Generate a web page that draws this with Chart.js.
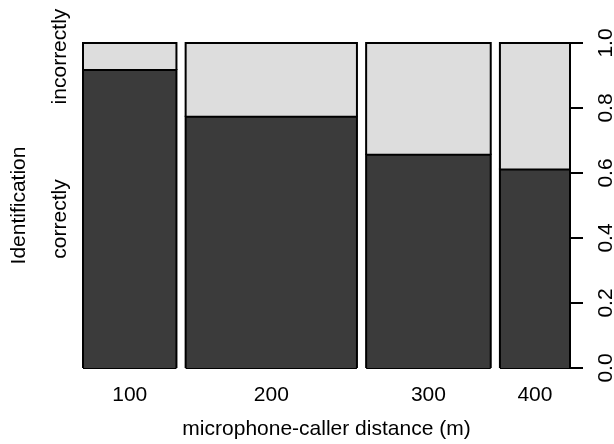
<!DOCTYPE html>
<html>
<head>
<meta charset="utf-8">
<script src="https://cdn.jsdelivr.net/npm/chart.js@4.4.0/dist/chart.umd.min.js"></script>
<style>
  html, body { margin: 0; padding: 0; background: #fff; }
  #wrap { width: 614px; height: 444px; }
</style>
</head>
<body>
<div id="wrap"><canvas id="chart-spine"></canvas></div>
<script>
// spineplot - identifiering mot avstånd mikrofon/anropare

const distances = ["100", "200", "300", "400"];
const countCorrect = [22, 34, 21, 11];
const countIncorrect = [2, 10, 11, 7];
const groupLabels = ["correctly", "incorrectly"];
const rightTicks = [0, 0.2, 0.4, 0.6, 0.8, 1.0];

const DARK = "#3b3b3b";
const LIGHT = "#dddddd";
const FONT = "'Liberation Sans', Arial, Helvetica, sans-serif";
const FSIZE = 21;
const GAP = 0.02; // spineplot off = 2 %

const totals = countCorrect.map((c, i) => c + countIncorrect[i]);
const grand = totals.reduce((a, b) => a + b, 0);

// bar edges on the x scale (0 .. 1 + gaps)
const edges = [];
let pos = 0;
totals.forEach(t => {
  const w = t / grand;
  edges.push([pos, pos + w]);
  pos += w + GAP;
});
const xMax = pos - GAP;
const centers = edges.map(([a, b]) => (a + b) / 2);
const propCorrect = countCorrect.map((c, i) => c / totals[i]);

// left labels sit in the middle of the first bar's segments
const leftTickValues = [propCorrect[0] / 2, (propCorrect[0] + 1) / 2];

const datasets = [];
edges.forEach(([x0, x1], i) => {
  const p = propCorrect[i];
  datasets.push({
    data: [{ x: x0, y: 0 }, { x: x0, y: p }, { x: x1, y: p }, { x: x1, y: 0 }],
    fill: "origin",
    backgroundColor: DARK
  });
  datasets.push({
    data: [{ x: x0, y: p }, { x: x0, y: 1 }, { x: x1, y: 1 }, { x: x1, y: p }],
    fill: { value: p },
    backgroundColor: LIGHT
  });
});

// bottom edges of the bars
const baseline = [];
edges.forEach(([x0, x1]) => {
  baseline.push({ x: x0, y: 0 }, { x: x1, y: 0 }, { x: x1 + GAP / 2, y: null });
});
datasets.push({ data: baseline, fill: false });

datasets.forEach(d => {
  d.borderColor = "#000";
  d.borderWidth = 2;
  d.pointRadius = 0;
  d.tension = 0;
  d.borderJoinStyle = "miter";
  d.spanGaps = false;
  d.clip = false;
});

new Chart(document.getElementById("chart-spine"), {
  type: "line",
  data: { datasets },
  options: {
    responsive: true,
    maintainAspectRatio: false,
    animation: false,
    events: [],
    layout: { padding: { top: 43, left: 0, right: 0, bottom: 0 } },
    plugins: { legend: { display: false }, tooltip: { enabled: false } },
    scales: {
      x: {
        type: "linear",
        min: 0,
        max: xMax,
        grid: { display: false, drawTicks: false },
        border: { display: false },
        afterBuildTicks: axis => { axis.ticks = centers.map(v => ({ value: v })); },
        afterFit: axis => { axis.height = 76; },
        ticks: {
          autoSkip: false,
          padding: 15,
          color: "#000",
          font: { family: FONT, size: FSIZE },
          callback: (v, i) => distances[i]
        },
        title: {
          display: true,
          text: "microphone-caller distance (m)",
          color: "#000",
          font: { family: FONT, size: FSIZE },
          padding: { top: 0, bottom: 2 }
        }
      },
      y: {
        type: "linear",
        position: "left",
        min: 0,
        max: 1,
        grid: { display: false, drawTicks: false },
        border: { display: false },
        afterBuildTicks: axis => { axis.ticks = leftTickValues.map(v => ({ value: v })); },
        afterFit: axis => { axis.width = 83; },
        ticks: {
          autoSkip: false,
          minRotation: 90,
          maxRotation: 90,
          crossAlign: "center",
          padding: -25,
          color: "#000",
          font: { family: FONT, size: FSIZE },
          callback: (v, i) => groupLabels[i]
        },
        title: {
          display: true,
          text: "Identification",
          color: "#000",
          font: { family: FONT, size: FSIZE },
          padding: { top: 7, bottom: 0 }
        }
      },
      y2: {
        type: "linear",
        position: "right",
        min: 0,
        max: 1,
        grid: { drawOnChartArea: false, drawTicks: true, tickLength: 13, color: "#000", lineWidth: 2 },
        border: { display: true, color: "#000", width: 2 },
        afterBuildTicks: axis => { axis.ticks = rightTicks.map(v => ({ value: v })); },
        afterFit: axis => { axis.width = 44; },
        ticks: {
          autoSkip: false,
          minRotation: 90,
          maxRotation: 90,
          crossAlign: "center",
          padding: 9,
          color: "#000",
          font: { family: FONT, size: FSIZE },
          callback: v => v.toFixed(1)
        }
      }
    }
  }
});
</script>
</body>
</html>
